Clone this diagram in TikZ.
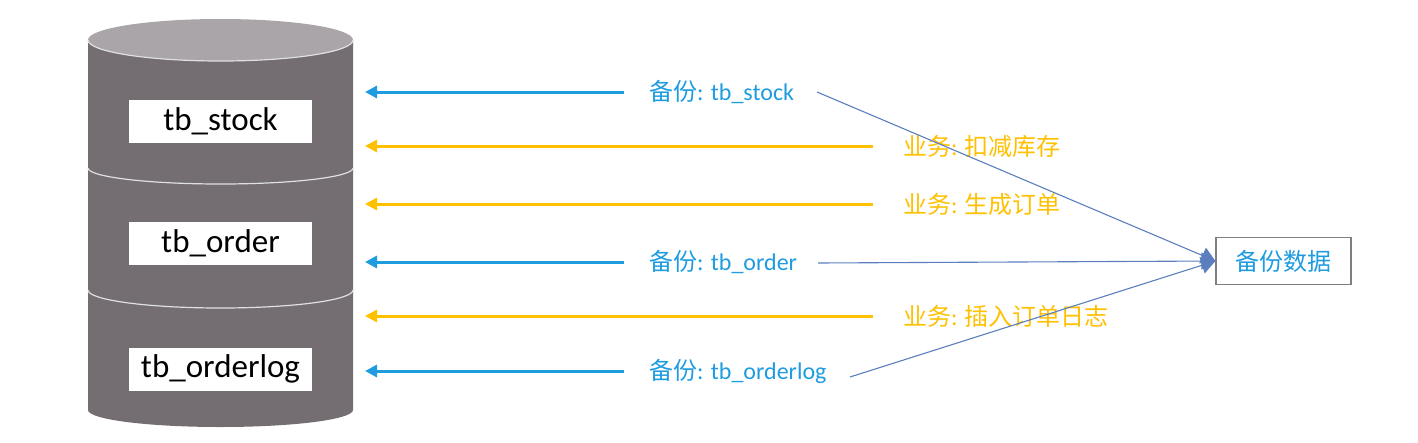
\documentclass[tikz,border=0pt]{standalone}
\usepackage{fontspec}
\setmainfont{Carlito}
\newfontfamily\cjk{Noto Sans CJK SC}
\usetikzlibrary{arrows.meta}
\definecolor{cylbody}{HTML}{746E72}
\definecolor{cyltop}{HTML}{A9A5A8}
\definecolor{bkblue}{HTML}{1E9CDF}
\definecolor{bzorange}{HTML}{FFC000}
\definecolor{thinblue}{HTML}{5B7FBE}
\definecolor{boxgray}{HTML}{7F7F7F}
\tikzset{
  tbl/.style={fill=white, minimum width=183pt, minimum height=43pt, inner sep=0pt, font=\fontsize{33}{33}\selectfont},
  bkarrow/.style={draw=bkblue, line width=3pt, -{Triangle[length=12pt,width=12pt]}},
  bzarrow/.style={draw=bzorange, line width=3pt, -{Triangle[length=12pt,width=12pt]}},
  bklabel/.style={text=bkblue, anchor=west, inner sep=0pt, font=\fontsize{24}{24}\selectfont},
  bzlabel/.style={text=bzorange, anchor=west, inner sep=0pt, font=\fontsize{24}{24}\selectfont},
  thin/.style={draw=thinblue, line width=1.1pt},
  thinarrow/.style={thin, -{Triangle[length=14pt,width=17pt]}},
  sep/.style={draw=white!88!black, line width=1.2pt},
}
\begin{document}
\begin{tikzpicture}[x=1pt,y=-1pt]
\useasboundingbox (0,0) rectangle (1418,442);
% cylinder
\fill[cylbody] (88,40) -- (88,410) arc[start angle=180, end angle=0, x radius=132.5, y radius=17] -- (353,40) -- cycle;
\fill[cyltop] (220.5,40) ellipse[x radius=132.5, y radius=21];
\draw[sep] (88,40) arc[start angle=180, end angle=0, x radius=132.5, y radius=21];
\draw[sep] (88,168) arc[start angle=180, end angle=0, x radius=132.5, y radius=16];
\draw[sep] (88,290) arc[start angle=180, end angle=0, x radius=132.5, y radius=18];
% table boxes
\node[tbl] (stock) at (220.5,121.5) {tb\_stock};
\node[tbl] (order) at (220.5,243.5) {tb\_order};
\node[tbl] (orderlog) at (220.5,369) {tb\_orderlog};
% arrow ends
\coordinate (e1) at (365,92);
\coordinate (e2) at (365,146);
\coordinate (e3) at (365,204);
\coordinate (e4) at (365,262);
\coordinate (e5) at (365,316);
\coordinate (e6) at (365,371);
\coordinate (s1) at (624,92);
\coordinate (s2) at (873,146);
\coordinate (s3) at (873,204);
\coordinate (s4) at (624,262);
\coordinate (s5) at (873,316);
\coordinate (s6) at (624,371);
\draw[bkarrow] (s1) -- (e1);
\draw[bzarrow] (s2) -- (e2);
\draw[bzarrow] (s3) -- (e3);
\draw[bkarrow] (s4) -- (e4);
\draw[bzarrow] (s5) -- (e5);
\draw[bkarrow] (s6) -- (e6);
% labels
\node[bklabel] (l1) at (649,92) {{\cjk 备份}: tb\_stock};
\node[bzlabel] (l2) at (903,146) {{\cjk 业务}: {\cjk 扣减库存}};
\node[bzlabel] (l3) at (903,204) {{\cjk 业务}: {\cjk 生成订单}};
\node[bklabel] (l4) at (649,262) {{\cjk 备份}: tb\_order};
\node[bzlabel] (l5) at (903,316) {{\cjk 业务}: {\cjk 插入订单日志}};
\node[bklabel] (l6) at (649,371) {{\cjk 备份}: tb\_orderlog};
% backup box
\node[draw=boxgray, line width=1.2pt, fill=white, minimum width=135pt, minimum height=47pt, inner sep=0pt, text=bkblue, font=\fontsize{24}{24}\cjk] (bk) at (1283.5,261) {备份数据};
\coordinate (t1) at (817,92);
\coordinate (t4) at (818,263);
\coordinate (t6) at (850,377);
\draw[thinarrow] (t1) -- (bk.west);
\draw[thinarrow] (t4) -- (bk.west);
\draw[thinarrow] (t6) -- (bk.west);
\end{tikzpicture}
\end{document}
